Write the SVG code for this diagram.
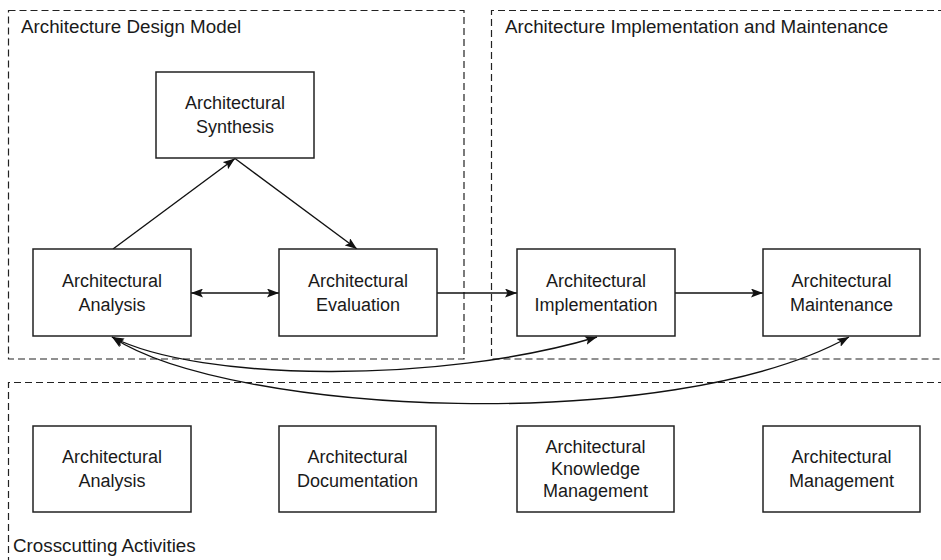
<svg xmlns="http://www.w3.org/2000/svg" width="941" height="560" viewBox="0 0 941 560">
  <style>
    .region { fill: none; stroke: #222; stroke-width: 1.2; stroke-dasharray: 7 4; }
    .title { font-family: "Liberation Sans", Arial, sans-serif; font-size: 18.8px; fill: #1a1a1a; }
    .box { fill: #fff; stroke: #222; stroke-width: 1.5; }
    .label { font-family: "Liberation Sans", Arial, sans-serif; font-size: 18px; fill: #1a1a1a; text-anchor: middle; }
    .conn { fill: none; stroke: #111; stroke-width: 1.4; }
  </style>
  <defs>
    <marker id="arrow" viewBox="0 0 12 9" markerWidth="12" markerHeight="9" refX="12" refY="4.5" orient="auto-start-reverse" markerUnits="userSpaceOnUse">
      <path d="M0,0 L12,4.5 L0,9 L2.5,4.5 z" fill="#111"/>
    </marker>
  </defs>

  <rect width="941" height="560" fill="#fff"/>

  <!-- Regions -->
  <g id="design-model">
    <rect class="region" x="8.5" y="10.5" width="455.5" height="348.5"/>
    <text class="title" x="21" y="33">Architecture Design Model</text>
  </g>
  <g id="implementation-maintenance">
    <path class="region" d="M945,10.5 H491.5 V359 H945"/>
    <text class="title" x="505" y="33">Architecture Implementation and Maintenance</text>
  </g>
  <g id="crosscutting">
    <path class="region" d="M945,382.5 H8.5 V561 H945"/>
    <text class="title" x="13" y="552">Crosscutting Activities</text>
  </g>

  <!-- Connectors -->
  <g id="connectors">
    <line class="conn" x1="113" y1="249" x2="235" y2="158.5" marker-end="url(#arrow)"/>
    <line class="conn" x1="235" y1="158.5" x2="357" y2="249" marker-end="url(#arrow)"/>
    <line class="conn" x1="191" y1="293" x2="279" y2="293" marker-start="url(#arrow)" marker-end="url(#arrow)"/>
    <line class="conn" x1="437" y1="293" x2="517" y2="293" marker-end="url(#arrow)"/>
    <line class="conn" x1="675" y1="293" x2="763" y2="293" marker-end="url(#arrow)"/>
    <path class="conn" d="M112,337 C200,382 440,384 597,337" marker-start="url(#arrow)" marker-end="url(#arrow)"/>
    <path class="conn" d="M112,337 C230,415 670,436 849,337" marker-start="url(#arrow)" marker-end="url(#arrow)"/>
  </g>

  <!-- Design model nodes -->
  <g id="synthesis">
    <rect class="box" x="156" y="72" width="158" height="86"/>
    <text class="label" x="235" y="109">Architectural</text>
    <text class="label" x="235" y="133">Synthesis</text>
  </g>
  <g id="analysis">
    <rect class="box" x="33" y="249" width="158" height="87"/>
    <text class="label" x="112" y="287">Architectural</text>
    <text class="label" x="112" y="311">Analysis</text>
  </g>
  <g id="evaluation">
    <rect class="box" x="279" y="249" width="158" height="87"/>
    <text class="label" x="358" y="287">Architectural</text>
    <text class="label" x="358" y="311">Evaluation</text>
  </g>

  <!-- Implementation and maintenance nodes -->
  <g id="implementation">
    <rect class="box" x="517" y="249" width="158" height="87"/>
    <text class="label" x="596" y="287">Architectural</text>
    <text class="label" x="596" y="311">Implementation</text>
  </g>
  <g id="maintenance">
    <rect class="box" x="763" y="249" width="157" height="87"/>
    <text class="label" x="841.5" y="287">Architectural</text>
    <text class="label" x="841.5" y="311">Maintenance</text>
  </g>

  <!-- Crosscutting nodes -->
  <g id="cc-analysis">
    <rect class="box" x="33" y="426" width="158" height="86"/>
    <text class="label" x="112" y="463">Architectural</text>
    <text class="label" x="112" y="487">Analysis</text>
  </g>
  <g id="cc-documentation">
    <rect class="box" x="279" y="426" width="157" height="86"/>
    <text class="label" x="357.5" y="463">Architectural</text>
    <text class="label" x="357.5" y="487">Documentation</text>
  </g>
  <g id="cc-knowledge">
    <rect class="box" x="517" y="426" width="157" height="86"/>
    <text class="label" x="595.5" y="453">Architectural</text>
    <text class="label" x="595.5" y="475">Knowledge</text>
    <text class="label" x="595.5" y="497">Management</text>
  </g>
  <g id="cc-management">
    <rect class="box" x="763" y="426" width="157" height="86"/>
    <text class="label" x="841.5" y="463">Architectural</text>
    <text class="label" x="841.5" y="487">Management</text>
  </g>
</svg>
